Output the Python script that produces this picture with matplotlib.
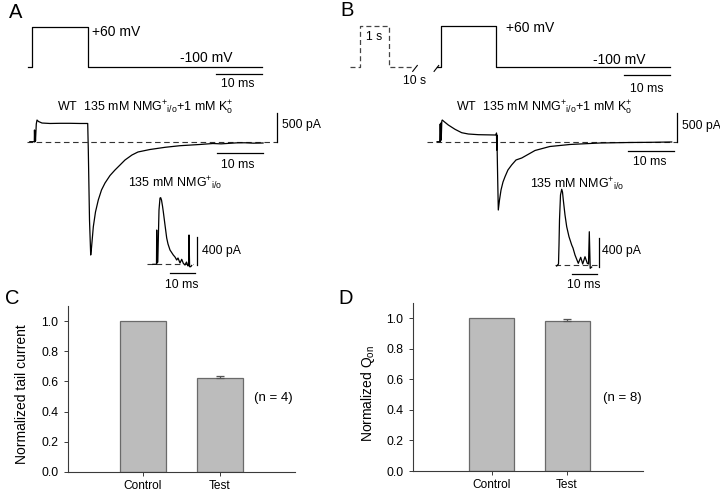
import matplotlib
matplotlib.use("Agg")
import matplotlib.pyplot as plt
from matplotlib.ticker import FormatStrFormatter

plt.rcParams['font.family'] = ['Liberation Sans', 'DejaVu Sans']
plt.rcParams['mathtext.fontset'] = 'custom'
plt.rcParams['mathtext.rm'] = 'Liberation Sans'
plt.rcParams['mathtext.it'] = 'Liberation Sans:italic'
plt.rcParams['mathtext.bf'] = 'Liberation Sans:bold'

# ---------------- data ----------------
# Panel A voltage protocol (ms, mV)
protoA_t = [0, 0.9, 0.9, 13.0, 13.0, 50.9]
protoA_v = [-100, -100, 60, 60, -100, -100]

# Panel A current trace (ms, pA)
curA_t = [0.4, 1.37, 1.41, 1.48, 1.54, 1.63, 1.80, 1.96, 2.28, 3.04, 4.78, 6.96, 9.13,
          11.3, 12.98, 13.11, 13.37, 13.63, 13.8, 14.2, 14.67, 15.28, 15.98, 16.74,
          17.83, 18.91, 20.0, 21.09, 22.6, 23.9, 26.5, 29.8, 33.0, 35.2, 37.4, 40.2,
          42.0, 43.9, 45.5, 47.2, 49.0, 51.1]
curA_i = [0, 0, 207, -5, 189, 12, 313, 383, 357, 330, 322, 325, 325,
          322, 322, -147, -1383, -2002, -1878, -1502, -1242, -1030, -853, -730,
          -597, -500, -412, -323, -235, -182, -138, -99, -71, -60, -49, -32,
          -38, -28, -20, -19, -26, -23]

# Panel A inset (ms, pA)
insA_t = [0, 1.4, 1.48, 1.6, 1.92, 2.12, 2.4, 2.8, 3.08, 3.4, 3.8, 4.12, 4.8, 5.48,
          6.0, 6.8, 8.12, 8.8, 9.48, 10.0, 10.8, 11.48, 12.12, 12.8, 13.4, 14.0,
          14.28, 14.4, 14.64, 15.08, 15.48]
insA_i = [0, 0, 484, 18, 32, 343, 767, 936, 941, 908, 823, 743, 555, 371,
          287, 202, 131, 103, 61, 89, 18, 71, 14, -10, 32, -24,
          -10, 414, -34, -34, -17]

# Panel B voltage protocol (ms, mV), prepulse drawn schematically
preB_t = [-19.1, -17.0, -17.0, -10.7, -10.7, -5.2]
preB_v = [-100, -100, 60, 60, -100, -100]
protoB_t = [-0.2, 0.65, 0.65, 12.6, 12.6, 50.4]
protoB_v = [-100, -100, 60, 60, -100, -100]

# Panel B current trace (ms, pA)
curB_t = [-0.2, 0.43, 0.48, 0.54, 0.61, 0.70, 0.83, 0.93, 1.3, 2.24, 3.7, 5.15, 6.59,
          8.76, 12.6, 12.72, 12.76, 12.8, 12.98, 13.11, 13.37, 13.7, 14.13, 14.57,
          15.2, 16.0, 16.96, 18.2, 21.1, 24.3, 28.7, 35.2, 41.7, 46.1, 50.8]
curB_i = [0, 0, 313, 12, 330, 30, 366, 383, 357, 295, 219, 159, 136,
          124, 118, 154, -147, 120, -677, -1207, -1030, -853, -712, -618,
          -500, -412, -323, -288, -155, -85, -49, -23, -14, -11, -5]

# Panel B inset (ms, pA)
insB_t = [0, 0.72, 0.92, 1.12, 1.52, 2.0, 2.32, 2.64, 3.32, 4.0, 4.92, 6.0, 6.52,
          7.32, 8.64, 9.6, 10.4, 11.32, 12.24, 12.72, 13.04, 13.4, 14.0]
insB_i = [-14, 14, 276, 621, 966, 1044, 1006, 897, 690, 528, 390, 276, 234,
          138, 23, 106, 14, 114, 23, 14, 459, -46, -28]

# Panels C, D bar data
categories = ['Control', 'Test']
tail_mean = [1.0, 0.625]
tail_err = [0.0, 0.013]
qon_mean = [1.0, 0.985]
qon_err = [0.0, 0.012]
yticks = [0.0, 0.2, 0.4, 0.6, 0.8, 1.0]

# scale bar sizes
SB_MS = 10
SB_PA_MAIN = 500
SB_PA_INSET = 400

# ---------------- figure ----------------
W, H = 720, 492
fig = plt.figure(figsize=(W / 100, H / 100), dpi=100)

BAR_FACE = '#bcbcbc'
BAR_EDGE = '#6a6a6a'
SPINE = '#3a3a3a'


def bar_panel(rect_px, means, errs, xlim):
    l, r, t, b = rect_px
    ax = fig.add_axes([l / W, 1 - b / H, (r - l) / W, (b - t) / H])
    x = list(range(len(categories)))
    ax.bar(x, means, width=0.6, color=BAR_FACE, edgecolor=BAR_EDGE, linewidth=0.9, zorder=2)
    for xi, m, e in zip(x, means, errs):
        if e > 0:
            ax.errorbar(xi, m, yerr=[[0], [e]], fmt='none', ecolor='#555555',
                        elinewidth=0.9, capsize=2.6, capthick=0.9, zorder=3)
    ax.set_xlim(*xlim)
    ax.set_ylim(0, 1.1)
    ax.set_yticks(yticks)
    ax.yaxis.set_major_formatter(FormatStrFormatter('%.1f'))
    ax.set_xticks(x)
    ax.set_xticklabels(categories)
    for s in ['top', 'right']:
        ax.spines[s].set_visible(False)
    for s in ['left', 'bottom']:
        ax.spines[s].set_color(SPINE)
        ax.spines[s].set_linewidth(0.8)
    ax.tick_params(axis='y', direction='out', length=3, width=0.7, color=SPINE,
                   labelsize=8.8, pad=4)
    ax.tick_params(axis='x', direction='out', length=3, width=0.7, color=SPINE,
                   labelsize=8.6, pad=3)
    ax.patch.set_alpha(0)
    return ax


axC = bar_panel((68, 295, 306, 472), tail_mean, tail_err, (-0.975, 1.975))
axD = bar_panel((413, 643, 303, 471), qon_mean, qon_err, (-1.053, 2.013))


def trace_ax(x0, y0, sx, sy):
    """Full-figure transparent axes: data (0,0) at pixel (x0,y0); sx px/unit, sy px/unit."""
    ax = fig.add_axes([0, 0, 1, 1])
    ax.set_xlim(-x0 / sx, (W - x0) / sx)
    ax.set_ylim((y0 - H) / sy, y0 / sy)
    ax.axis('off')
    ax.patch.set_alpha(0)
    return ax


LW = 0.9
DASH = (0, (5, 3.2))
K = 'black'

# ---- Panel A ----
vA = trace_ax(28, 42, 4.6, 0.25)
vA.plot(protoA_t, protoA_v, color=K, lw=LW)
vA.plot([50.9 - SB_MS, 50.9], [-128, -128], color=K, lw=LW)

cA = trace_ax(28, 141.7, 4.6, 0.0566)
cA.plot([-0.2, 54.1], [0, 0], color='#333333', lw=0.8, linestyle=DASH)
cA.plot(curA_t, curA_i, color=K, lw=LW)
cA.plot([54.1, 54.1], [0, SB_PA_MAIN], color=K, lw=LW)
cA.plot([51.15 - SB_MS, 51.15], [-194, -194], color=K, lw=LW)

iA = trace_ax(153, 264.3, 2.5, 0.0708)
iA.plot([-2.4, 16.0], [0, 0], color='#333333', lw=0.8, linestyle=DASH)
iA.plot(insA_t, insA_i, color=K, lw=LW)
iA.plot([17.5, 17.5], [-10, SB_PA_INSET - 10], color=K, lw=LW)
iA.plot([16.8 - SB_MS, 16.8], [-127, -127], color=K, lw=LW)

# ---- Panel B ----
vB = trace_ax(438, 41.4, 4.6, 0.25625)
vB.plot(preB_t, preB_v, color='#444444', lw=LW, linestyle=(0, (4, 2.5)))
vB.plot(protoB_t, protoB_v, color=K, lw=LW)
for tb in [-5.0, -0.35]:
    vB.plot([tb - 0.5, tb + 0.5], [-117, -94], color=K, lw=0.8)
vB.plot([50.4 - SB_MS, 50.4], [-131, -131], color=K, lw=LW)

cB = trace_ax(438, 141.7, 4.6, 0.0566)
cB.plot([-2.4, 51.9], [0, 0], color='#333333', lw=0.8, linestyle=DASH)
cB.plot(curB_t, curB_i, color=K, lw=LW)
cB.plot([51.9, 51.9], [0, SB_PA_MAIN], color=K, lw=LW)
cB.plot([51.2 - SB_MS, 51.2], [-164, -164], color=K, lw=LW)

iB = trace_ax(556.7, 265, 2.5, 0.0725)
iB.plot([-0.7, 16.0], [0, 0], color='#333333', lw=0.8, linestyle=DASH)
iB.plot(insB_t, insB_i, color=K, lw=LW)
iB.plot([17.0, 17.0], [-32, SB_PA_INSET - 32], color=K, lw=LW)
iB.plot([16.24 - SB_MS, 16.24], [-124, -124], color=K, lw=LW)

# ---- text overlay in pixel coordinates ----
ov = fig.add_axes([0, 0, 1, 1])
ov.set_xlim(0, W)
ov.set_ylim(H, 0)
ov.axis('off')
ov.patch.set_alpha(0)


def T(x, y, s, size=9, ha='left', va='center', **kw):
    ov.text(x, y, s, fontsize=size, ha=ha, va=va, **kw)


for lbl, x, y in [('A', 16, 12), ('B', 347, 10), ('C', 12, 299), ('D', 346, 299)]:
    T(x, y, lbl, size=14.5, ha='center')

wt_label = r'WT  135 mM NMG$^{+}$$_{\rm i/o}$+1 mM K$^{+}_{\rm o}$'
nmg_label = r'135 mM NMG$^{+}$$_{\rm i/o}$'

# A
T(92, 32, '+60 mV', size=10)
T(180, 57.5, '-100 mV', size=10)
T(238, 84, f'{SB_MS} ms', size=8.8, ha='center')
T(57, 110.5, wt_label, size=9, va='baseline')
T(281.5, 125, f'{SB_PA_MAIN} pA', size=8.8)
T(238, 165.5, f'{SB_MS} ms', size=8.8, ha='center')
T(128.5, 187, nmg_label, size=9, va='baseline')
T(201.5, 251, f'{SB_PA_INSET} pA', size=8.8)
T(182, 284.5, f'{SB_MS} ms', size=8.8, ha='center')

# B
T(374, 36.5, '1 s', size=8.8, ha='center')
T(415, 81.5, '10 s', size=8.8, ha='center')
T(506.5, 28.5, '+60 mV', size=10)
T(593, 60.5, '-100 mV', size=10)
T(647, 89.5, f'{SB_MS} ms', size=8.8, ha='center')
T(456.5, 111, wt_label, size=9, va='baseline')
T(681.5, 125.5, f'{SB_PA_MAIN} pA', size=8.8)
T(649.5, 162, f'{SB_MS} ms', size=8.8, ha='center')
T(530, 188, nmg_label, size=9, va='baseline')
T(602, 251, f'{SB_PA_INSET} pA', size=8.8)
T(584, 285, f'{SB_MS} ms', size=8.8, ha='center')

# C / D annotations
T(22, 394, 'Normalized tail current', size=10, ha='center', rotation=90)
T(273, 397.5, '(n = 4)', size=9.5, ha='center')
T(368, 393.5, 'Normalized Q$_{\\rm on}$', size=10, ha='center', rotation=90)
T(622, 397.5, '(n = 8)', size=9.5, ha='center')

fig.savefig('out.png', dpi=100)
